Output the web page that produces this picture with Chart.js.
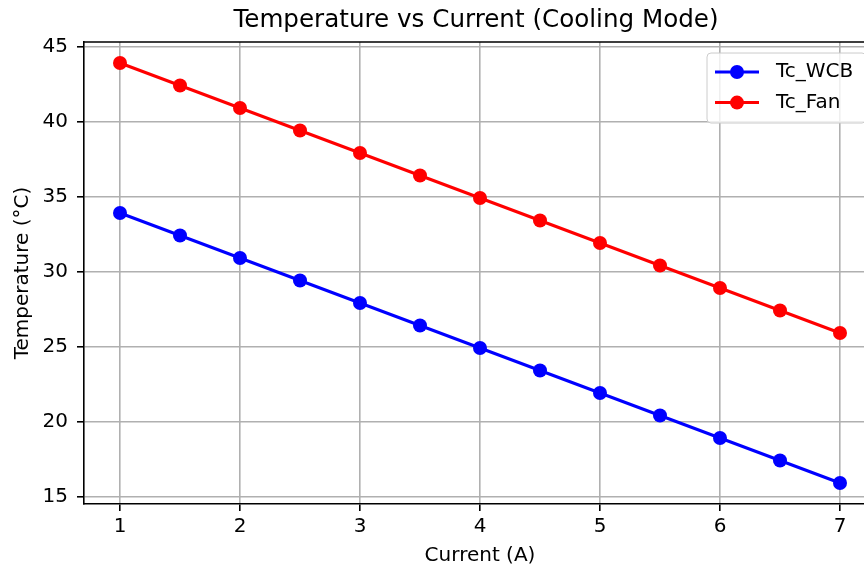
<!DOCTYPE html>
<html>
<head>
<meta charset="utf-8">
<script src="https://cdn.jsdelivr.net/npm/chart.js@4.4.1/dist/chart.umd.min.js"></script>
<style>
  html, body { margin: 0; padding: 0; background: #ffffff; overflow: hidden; }
  #wrap { width: 960px; height: 570px; position: relative; }
</style>
</head>
<body>
<div id="wrap"><canvas id="c"></canvas></div>
<script>
// ---- data ----
const currents = [1, 1.5, 2, 2.5, 3, 3.5, 4, 4.5, 5, 5.5, 6, 6.5, 7];
const tcWCB = [33.9, 32.4, 30.9, 29.4, 27.9, 26.4, 24.9, 23.4, 21.9, 20.4, 18.9, 17.4, 15.9];
const tcFan = [43.9, 42.4, 40.9, 39.4, 37.9, 36.4, 34.9, 33.4, 31.9, 30.4, 28.9, 27.4, 25.9];
const seriesNames = ['Tc_WCB', 'Tc_Fan'];
const xTicks = [1, 2, 3, 4, 5, 6, 7];
const yTicks = [15, 20, 25, 30, 35, 40, 45];
const titleText = 'Temperature vs Current (Cooling Mode)';
const xLabel = 'Current (A)';
const yLabel = 'Temperature (°C)';

const FONT = 'DejaVu Sans';
Chart.defaults.font.family = FONT;
Chart.defaults.color = '#000000';

const toPts = (ys) => currents.map((x, i) => ({ x: x, y: ys[i] }));

const frameAndLegend = {
  id: 'frameAndLegend',
  afterDatasetsDraw(chart) {
    const ctx = chart.ctx;
    const a = chart.chartArea;
    ctx.save();
    // top and right spines
    ctx.strokeStyle = '#000000';
    ctx.lineWidth = 1.6;
    ctx.beginPath();
    ctx.moveTo(a.left, a.top);
    ctx.lineTo(a.right, a.top);
    ctx.lineTo(a.right, a.bottom);
    ctx.stroke();

    // legend (upper right, inside axes)
    const bw = 159, bh = 70;
    const bx = a.right - 10 - bw, by = a.top + 11;
    const r = 4;
    ctx.beginPath();
    ctx.moveTo(bx + r, by);
    ctx.lineTo(bx + bw - r, by);
    ctx.arcTo(bx + bw, by, bx + bw, by + r, r);
    ctx.lineTo(bx + bw, by + bh - r);
    ctx.arcTo(bx + bw, by + bh, bx + bw - r, by + bh, r);
    ctx.lineTo(bx + r, by + bh);
    ctx.arcTo(bx, by + bh, bx, by + bh - r, r);
    ctx.lineTo(bx, by + r);
    ctx.arcTo(bx, by, bx + r, by, r);
    ctx.closePath();
    ctx.fillStyle = 'rgba(255,255,255,0.8)';
    ctx.fill();
    ctx.strokeStyle = '#cccccc';
    ctx.lineWidth = 1;
    ctx.stroke();

    chart.data.datasets.forEach((ds, i) => {
      const cy = by + 19 + i * 30.6;
      const x0 = bx + 8, x1 = bx + 52;
      ctx.strokeStyle = ds.borderColor;
      ctx.lineWidth = 3;
      ctx.beginPath();
      ctx.moveTo(x0, cy);
      ctx.lineTo(x1, cy);
      ctx.stroke();
      ctx.fillStyle = ds.pointBackgroundColor;
      ctx.beginPath();
      ctx.arc((x0 + x1) / 2, cy, 7, 0, Math.PI * 2);
      ctx.fill();
      ctx.fillStyle = '#000000';
      ctx.font = '20px "' + FONT + '"';
      ctx.textAlign = 'left';
      ctx.textBaseline = 'middle';
      ctx.fillText(ds.label, bx + 69, cy);
    });
    ctx.restore();
  }
};

const lineStyle = (name, color, values) => ({
  label: name,
  data: toPts(values),
  borderColor: color,
  backgroundColor: color,
  pointBackgroundColor: color,
  pointBorderColor: color,
  borderWidth: 3,
  pointRadius: 7,
  pointBorderWidth: 0,
  pointHoverRadius: 7,
  tension: 0,
  fill: false,
  yAxisID: 'y'
});

new Chart(document.getElementById('c'), {
  type: 'line',
  data: {
    datasets: [
      lineStyle(seriesNames[0], '#0000ff', tcWCB),
      lineStyle(seriesNames[1], '#ff0000', tcFan)
    ]
  },
  options: {
    responsive: true,
    maintainAspectRatio: false,
    animation: false,
    events: [],
    layout: { padding: { left: 0, right: 8, top: 0, bottom: 0 } },
    plugins: {
      legend: { display: false },
      tooltip: { enabled: false },
      title: {
        display: true,
        text: titleText,
        color: '#000000',
        font: { family: FONT, size: 24.6, weight: 'normal', lineHeight: 1.2 },
        padding: { top: 5.5, bottom: 7 }
      }
    },
    scales: {
      x: {
        type: 'linear',
        min: 0.7,
        max: 7.3,
        afterBuildTicks: (s) => { s.ticks = xTicks.map(v => ({ value: v })); },
        afterFit: (s) => { s.height = 66; },
        ticks: {
          font: { family: FONT, size: 20 },
          color: '#000000',
          padding: 4,
          maxRotation: 0,
          autoSkip: false,
          callback: (v) => String(v)
        },
        grid: {
          color: '#b0b0b0',
          lineWidth: 1.6,
          tickColor: '#000000',
          tickLength: 7,
          tickWidth: 1.6
        },
        border: { display: true, color: '#000000', width: 1.6 },
        title: {
          display: true,
          text: xLabel,
          color: '#000000',
          font: { family: FONT, size: 20, lineHeight: 1.2 },
          padding: { top: 0, bottom: 2 }
        }
      },
      y: {
        type: 'linear',
        position: 'left',
        min: 14.5,
        max: 45.3,
        afterBuildTicks: (s) => { s.ticks = yTicks.map(v => ({ value: v })); },
        afterFit: (s) => { s.width = 84; },
        ticks: {
          font: { family: FONT, size: 20 },
          color: '#000000',
          padding: 9,
          autoSkip: false,
          callback: (v) => String(v)
        },
        grid: {
          color: '#b0b0b0',
          lineWidth: 1.6,
          tickColor: '#000000',
          tickLength: 7,
          tickWidth: 1.6
        },
        border: { display: true, color: '#000000', width: 1.6 },
        title: {
          display: true,
          text: yLabel,
          color: '#000000',
          font: { family: FONT, size: 20, lineHeight: 1.2 },
          padding: { top: 11, bottom: 0 }
        }
      },
      yRight: {
        type: 'linear',
        position: 'right',
        min: 14.5,
        max: 45.3,
        display: true,
        afterFit: (s) => { s.width = 76; },
        ticks: { display: false },
        grid: { display: false, drawTicks: false },
        border: { display: false },
        title: { display: false }
      }
    }
  },
  plugins: [frameAndLegend]
});
</script>
</body>
</html>
